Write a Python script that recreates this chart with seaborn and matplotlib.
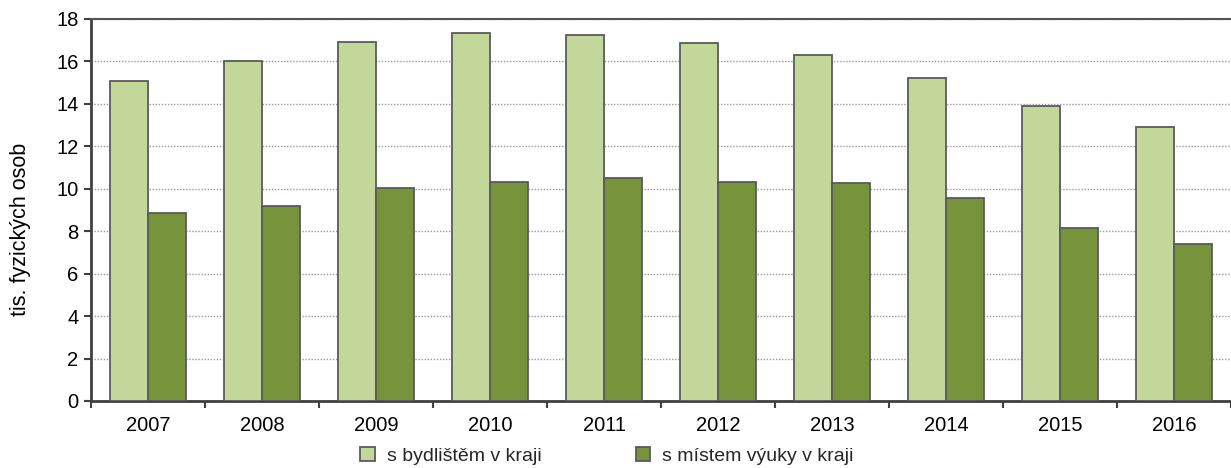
import matplotlib
matplotlib.use("Agg")
import matplotlib.pyplot as plt
import seaborn as sns
import pandas as pd
from matplotlib.patches import Patch
from matplotlib.ticker import MultipleLocator, FixedLocator

years = ["2007", "2008", "2009", "2010", "2011", "2012", "2013", "2014", "2015", "2016"]
bydliste = [15.08, 16.0, 16.93, 17.32, 17.23, 16.85, 16.29, 15.24, 13.92, 12.9]
vyuka = [8.84, 9.20, 10.05, 10.34, 10.52, 10.34, 10.26, 9.58, 8.17, 7.42]
series_names = ["s bydlištěm v kraji", "s místem výuky v kraji"]
ylabel = "tis. fyzických osob"

df = pd.DataFrame({
    "rok": years * 2,
    "hodnota": bydliste + vyuka,
    "serie": [series_names[0]] * len(years) + [series_names[1]] * len(years),
})

sns.set_theme(style="white")
plt.rcParams['font.family'] = ['Liberation Sans', 'DejaVu Sans']

colors = ["#C4D79B", "#77933C"]
edge = "#5A5A5A"

fig = plt.figure(figsize=(12.31, 4.68), dpi=100)
ax = fig.add_axes([91/1231, 1 - 401/468, 1 - 91/1231, (401 - 19)/468])

sns.barplot(data=df, x="rok", y="hodnota", hue="serie", palette=colors,
            width=0.667, edgecolor=edge, linewidth=1.3, ax=ax, legend=False,
            saturation=1, zorder=3)

ax.set_ylim(0, 18)
ax.set_xlim(-0.5, len(years) - 0.5)
ax.yaxis.set_major_locator(MultipleLocator(2))
ax.grid(axis="y", linestyle=(0, (1, 1.2)), color="#9A9A9A", linewidth=1.0, zorder=0)
ax.set_axisbelow(True)

for s in ["left", "bottom", "top"]:
    ax.spines[s].set_visible(True)
    ax.spines[s].set_color("#404040")
    ax.spines[s].set_linewidth(2.0)
ax.spines["top"].set_linewidth(1.5)
ax.spines["top"].set_color("#555555")
ax.spines["right"].set_visible(False)

ax.set_xlabel("")
ax.set_ylabel(ylabel, fontsize=15.5, color="#000000")
ax.yaxis.set_label_coords(-60/1140, 0.448)
ax.tick_params(axis="y", left=True, direction="out", length=5, width=1.5,
               color="#404040", labelsize=14.5, pad=4, labelcolor="#000000")
ax.tick_params(axis="x", bottom=False, labelsize=14.5, pad=5, labelcolor="#000000")
ax.xaxis.set_minor_locator(FixedLocator([i - 0.5 for i in range(len(years) + 1)]))
ax.tick_params(axis="x", which="minor", bottom=True, direction="out", length=5,
               width=1.5, color="#404040")

handles = [Patch(facecolor=c, edgecolor=edge, linewidth=1.3) for c in colors]
fig.legend(handles, series_names, loc="lower center", bbox_to_anchor=(0.493, -0.03),
           ncol=2, frameon=False, fontsize=14, handlelength=0.75, handleheight=0.75,
           handletextpad=0.6, columnspacing=4.85)

fig.savefig("out.png", dpi=100)
